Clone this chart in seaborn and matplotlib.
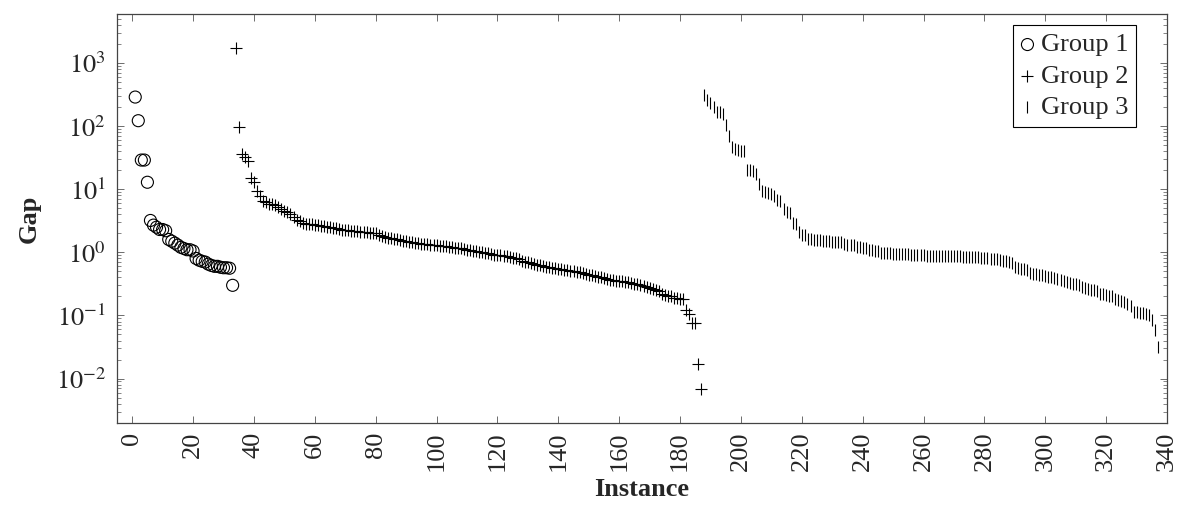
import numpy as np
import pandas as pd
import matplotlib
matplotlib.use("Agg")
import matplotlib.pyplot as plt
import seaborn as sns

# Gap per instance (log scale)
group1_x = list(range(1, 34))
group1_gap = [289, 122, 29, 29, 12.9,
              3.2, 2.7, 2.5, 2.3, 2.3, 2.2, 1.6, 1.5, 1.4, 1.3, 1.2, 1.15, 1.1, 1.1, 1.05,
              0.8, 0.75, 0.72, 0.7, 0.65, 0.62, 0.6, 0.6, 0.58, 0.57, 0.57, 0.56,
              0.30]

group2_x = list(range(34, 188))
group2_gap = [1750, 98, 36, 32, 28, 15, 12.8, 9.4, 7.9, 6.6, 6.2, 5.9, 5.8, 5.6, 5.2, 4.8, 4.5,
              4.3, 4.1, 3.6, 3.3, 3.1, 2.9,
              2.85, 2.8, 2.78, 2.75, 2.7, 2.65, 2.6, 2.55, 2.5, 2.45, 2.4, 2.35, 2.3, 2.28,
              2.25, 2.2, 2.18, 2.15, 2.12, 2.1, 2.07, 2.05, 2.02, 2.0,
              1.85, 1.8, 1.75, 1.7, 1.68, 1.65, 1.6, 1.57, 1.53, 1.5, 1.47, 1.45,
              1.42, 1.4, 1.38, 1.36, 1.35, 1.33, 1.32, 1.3, 1.28, 1.27, 1.25, 1.23, 1.2,
              1.19, 1.17, 1.15, 1.13, 1.1, 1.08, 1.06, 1.04, 1.02, 1.0, 0.98, 0.96, 0.94, 0.92, 0.91, 0.9,
              0.88, 0.86, 0.84, 0.82, 0.8, 0.78, 0.74, 0.71, 0.69, 0.67, 0.65,
              0.63, 0.62, 0.6, 0.59, 0.58, 0.57, 0.56, 0.55, 0.54, 0.53, 0.52, 0.51, 0.5, 0.49, 0.48, 0.47, 0.45,
              0.44, 0.43, 0.42, 0.41, 0.4, 0.39, 0.38, 0.37, 0.36, 0.355, 0.35, 0.345, 0.34, 0.335, 0.33, 0.32,
              0.31, 0.3, 0.29, 0.28, 0.27, 0.26, 0.25, 0.24, 0.22,
              0.21, 0.2, 0.2, 0.19, 0.19, 0.18, 0.18,
              0.12, 0.105, 0.075, 0.075, 0.017, 0.0068]

group3_x = list(range(188, 338))
group3_gap = [308, 259, 230, 203, 169, 165, 154, 104, 71, 47, 43, 42, 41, 40,
              20, 20, 19.5, 17.6, 12, 9.4, 9.2, 8.6, 8.3, 7.8, 6.7, 6.6, 4.9, 4.4, 4.15, 2.9, 2.85, 2.1, 1.88, 1.85,
              1.62, 1.6, 1.58, 1.57, 1.56,
              1.52, 1.5, 1.49, 1.48, 1.47, 1.46, 1.45,
              1.35, 1.33, 1.31, 1.3,
              1.22, 1.2, 1.19, 1.17,
              1.1, 1.08, 1.06, 1.05,
              0.98, 0.97, 0.96, 0.96, 0.95, 0.95, 0.94, 0.94, 0.93, 0.93, 0.92, 0.92, 0.91,
              0.9, 0.9, 0.89, 0.89, 0.89, 0.88, 0.88, 0.88, 0.87, 0.87, 0.87, 0.86, 0.86, 0.86, 0.85, 0.85,
              0.84, 0.84, 0.83, 0.83,
              0.82, 0.81, 0.8, 0.79, 0.78, 0.77, 0.76, 0.74, 0.72, 0.7, 0.68,
              0.58, 0.56, 0.55, 0.54, 0.53,
              0.47, 0.46, 0.45, 0.44, 0.43, 0.42, 0.41, 0.4, 0.39, 0.38,
              0.36, 0.35, 0.34, 0.33, 0.32, 0.31, 0.3,
              0.28, 0.27, 0.26, 0.255, 0.25, 0.24,
              0.22, 0.215, 0.21, 0.205, 0.2,
              0.18, 0.175, 0.17, 0.165,
              0.15, 0.14,
              0.115, 0.112, 0.11, 0.108, 0.105, 0.1,
              0.085, 0.059, 0.032]

x_ticks = list(range(0, 341, 20))
y_exponents = [-2, -1, 0, 1, 2, 3]

sns.set_style("ticks")
plt.rcParams['font.family'] = ['Liberation Serif', 'DejaVu Serif']
plt.rcParams['mathtext.fontset'] = 'stix'

fig = plt.figure(figsize=(11.78, 5.08), dpi=100)
ax = fig.add_axes([0.0993, 0.1667, 0.8914, 0.8057])

sns.scatterplot(x=group1_x, y=group1_gap, ax=ax, marker='o', s=75,
                facecolor='none', edgecolor='black', linewidth=0.8, label='Group 1')
sns.scatterplot(x=group2_x, y=group2_gap, ax=ax, marker='+', s=65,
                color='black', linewidth=0.8, label='Group 2')
sns.scatterplot(x=group3_x, y=group3_gap, ax=ax, marker='|', s=70,
                color='black', linewidth=0.8, label='Group 3')

ax.set_yscale('log')
ax.set_xlim(-5, 340)
ylo, yhi = 10 ** -2.71, 10 ** 3.777
ax.set_ylim(ylo, yhi)
ax.set_xticks(x_ticks)
ax.set_xticklabels([str(t) for t in x_ticks], rotation=90)
ax.set_yticks([10.0 ** e for e in y_exponents])
ax.set_yticklabels([r'$10^{%d}$' % e for e in y_exponents])
minor = [m * 10.0 ** e for e in range(-3, 4) for m in range(2, 10)]
minor = [v for v in minor if ylo < v < yhi]
ax.set_yticks(minor, minor=True)
ax.set_yticklabels([''] * len(minor), minor=True)

ax.tick_params(axis='both', which='major', direction='in', length=5, width=0.6,
               color='#555555', labelsize=19, top=True, right=True)
ax.tick_params(axis='y', which='major', pad=8)
ax.tick_params(axis='x', which='major', pad=6)
ax.tick_params(axis='y', which='minor', direction='in', length=3, width=0.5,
               color='#555555', right=True)
for sp in ax.spines.values():
    sp.set_color('#444444')
    sp.set_linewidth(0.9)

ax.set_xlabel('Instance', fontsize=19, fontweight='bold', labelpad=5)
ax.set_ylabel('Gap', fontsize=19, fontweight='bold', labelpad=11)

leg = ax.legend(loc='upper right', bbox_to_anchor=(0.9705, 0.973), borderaxespad=0,
                fancybox=False, edgecolor='black', framealpha=1, fontsize=19,
                handlelength=0.5, handletextpad=0.25, labelspacing=0.3, borderpad=0.3)
leg.get_frame().set_linewidth(0.8)

fig.savefig('out.png', dpi=100)
